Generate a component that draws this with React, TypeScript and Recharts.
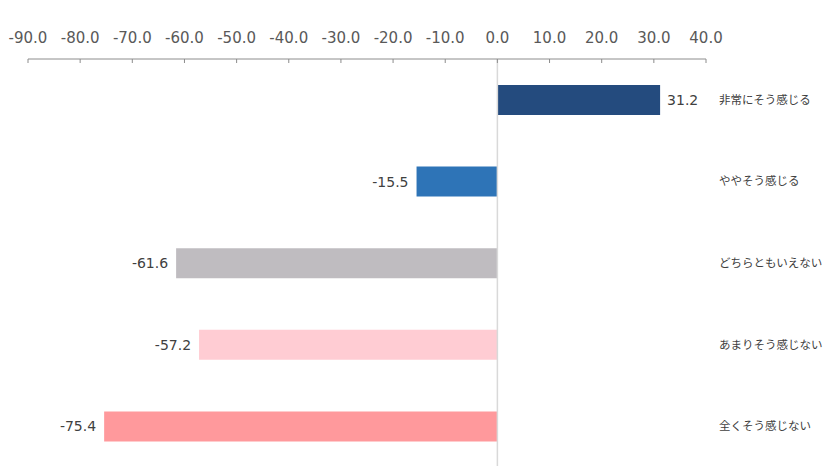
import { Bar, BarChart, Cell, LabelList, ReferenceLine, XAxis, YAxis } from "recharts";

const categories = ["非常にそう感じる", "ややそう感じる", "どちらともいえない", "あまりそう感じない", "全くそう感じない"];
const values = [31.2, -15.5, -61.6, -57.2, -75.4];
const barColors = ["#244b7e", "#2e74b7", "#bfbcc0", "#ffccd3", "#ff999c"];
const xTicks = [-90, -80, -70, -60, -50, -40, -30, -20, -10, 0, 10, 20, 30, 40];

const data = categories.map((name, i) => ({ name, value: values[i] }));

const NUM_FONT = "'DejaVu Sans', Verdana, sans-serif";
const JP_FONT = "'Noto Sans CJK JP', sans-serif";

// top axis: label above, short tick pointing down into the plot
function TopTick(props: any) {
  const { x, y, payload } = props;
  return (
    <g>
      <line x1={x} x2={x} y1={y} y2={y + 4} stroke="#8c8c8c" strokeWidth={1} />
      <text x={x} y={y - 16} textAnchor="middle" fill="#595959" fontSize={15} fontFamily={NUM_FONT}>
        {Number(payload.value).toFixed(1)}
      </text>
    </g>
  );
}

function CategoryTick(props: any) {
  const { x, y, payload } = props;
  return (
    <text x={x} y={y} dy="0.35em" textAnchor="start" fill="#404040" fontSize={11.5} fontFamily={JP_FONT}>
      {payload.value}
    </text>
  );
}

function ValueLabel(props: any) {
  const { x, y, width, height, value } = props;
  const left = Math.min(x, x + width);
  const right = Math.max(x, x + width);
  const positive = value >= 0;
  return (
    <text
      x={positive ? right + 7 : left - 8}
      y={y + height / 2}
      dy="0.35em"
      textAnchor={positive ? "start" : "end"}
      fill="#404040"
      fontSize={14}
      fontFamily={NUM_FONT}
    >
      {Number(value).toFixed(1)}
    </text>
  );
}

export default function App() {
  return (
    <div style={{ position: "absolute", left: 0, top: 0, background: "#fff" }}>
      <BarChart
        width={824}
        height={467}
        data={data}
        layout="vertical"
        margin={{ top: 0, right: 0, bottom: 0, left: 28 }}
      >
        <XAxis
          type="number"
          orientation="top"
          domain={[-90, 40]}
          ticks={xTicks}
          interval={0}
          height={59}
          tickSize={0}
          tickMargin={0}
          tickLine={false}
          axisLine={{ stroke: "#8c8c8c" }}
          tick={<TopTick />}
        />
        <YAxis
          type="category"
          dataKey="name"
          orientation="right"
          width={118}
          axisLine={false}
          tickLine={false}
          tickSize={0}
          tickMargin={13}
          interval={0}
          tick={<CategoryTick />}
        />
        <ReferenceLine x={0} stroke="#d9d9d9" strokeWidth={1.5} />
        <Bar dataKey="value" barSize={30} isAnimationActive={false}>
          {data.map((d, i) => (
            <Cell key={d.name} fill={barColors[i]} />
          ))}
          <LabelList dataKey="value" content={<ValueLabel />} />
        </Bar>
      </BarChart>
    </div>
  );
}
